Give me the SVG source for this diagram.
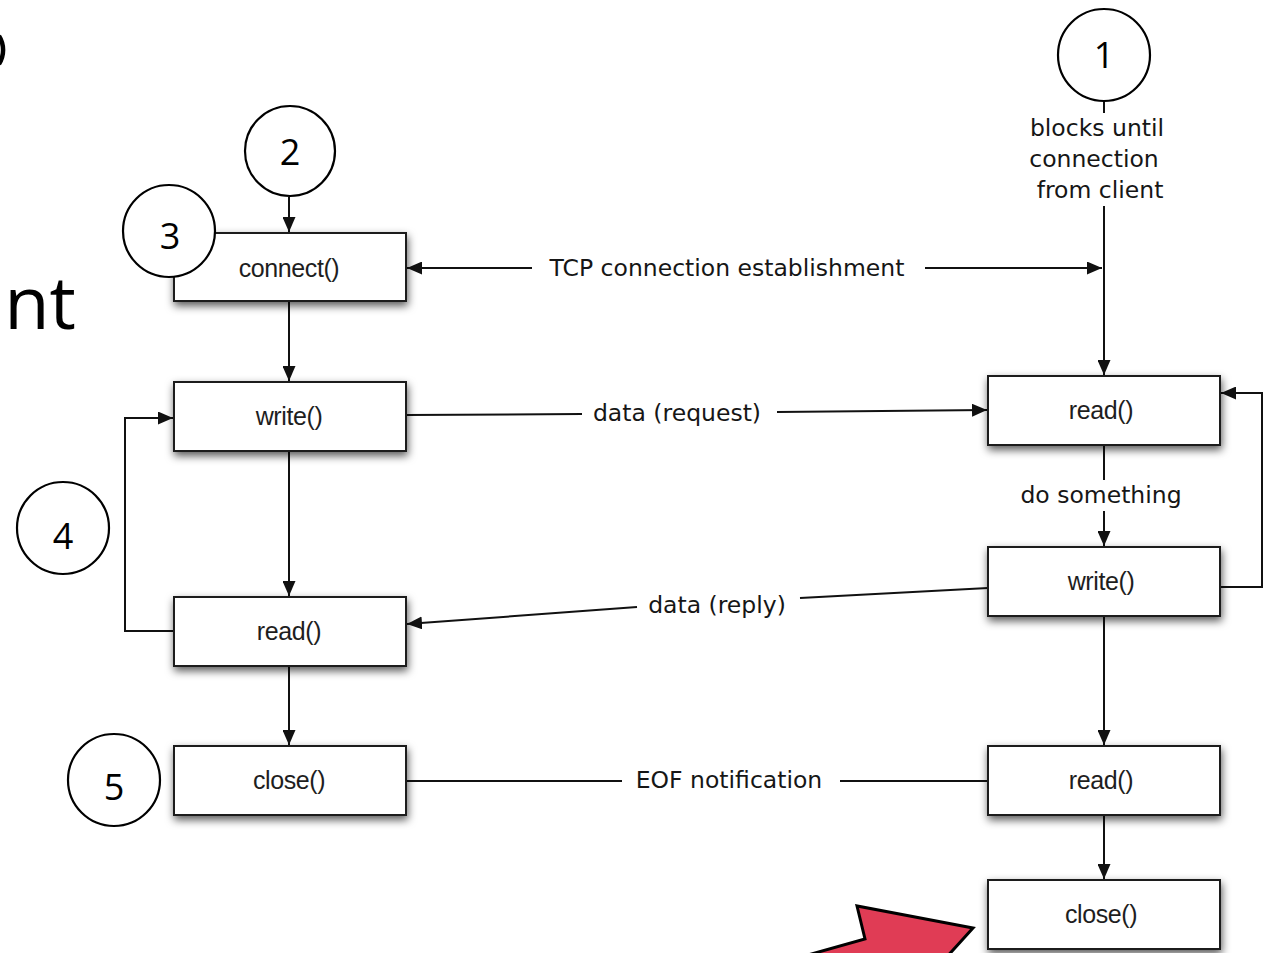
<svg xmlns="http://www.w3.org/2000/svg" width="1264" height="953" viewBox="0 0 1264 953">
  <defs>
    <filter id="shadow" x="-10%" y="-30%" width="120%" height="170%">
      <feDropShadow dx="1" dy="4" stdDeviation="4" flood-color="#000" flood-opacity="0.65"/>
    </filter>
    <marker id="arrow" markerUnits="userSpaceOnUse" markerWidth="16" markerHeight="13" refX="15" refY="6.5" orient="auto">
      <path d="M0,0 L15,6.5 L0,13 z" fill="#111"/>
    </marker>
    <style>
      .box rect { fill: #fff; stroke: #1a1a1a; stroke-width: 2; filter: url(#shadow); }
      .box text { font-family: "Liberation Sans", Arial, sans-serif; font-size: 25px; fill: #1e1e1e; text-anchor: middle; dominant-baseline: central; letter-spacing: -0.4px; }
      .step circle { fill: #fff; stroke: #000; stroke-width: 2.2; }
      .step text { font-family: "Open Sans", "Noto Sans", sans-serif; font-size: 36px; fill: #000; text-anchor: middle; dominant-baseline: central; }
      .edge { fill: none; stroke: #111; stroke-width: 2; }
      .arr { marker-end: url(#arrow); }
      .lbl { font-family: "DejaVu Sans", Verdana, sans-serif; font-size: 23.5px; fill: #161616; text-anchor: middle; dominant-baseline: central; }
    </style>
  </defs>

  <rect width="1264" height="953" fill="#fff"/>

  <!-- slide fragments at the left edge -->
  <path d="M -1 36 A 26 26 0 0 1 -1 64" fill="none" stroke="#000" stroke-width="4.5"/>
  <text x="76" y="329" font-family="Open Sans, Noto Sans, sans-serif" font-size="74" fill="#000" text-anchor="end">nt</text>

  <!-- connectors -->
  <g id="connectors">
    <!-- client column -->
    <line class="edge arr" x1="289" y1="197" x2="289" y2="232"/>
    <line class="edge arr" x1="289" y1="302" x2="289" y2="381"/>
    <line class="edge arr" x1="289" y1="451" x2="289" y2="596" stroke="#444"/>
    <line class="edge arr" x1="289" y1="666" x2="289" y2="745"/>
    <polyline class="edge arr" points="174,631 125,631 125,418 173,418"/>

    <!-- server column -->
    <line class="edge" x1="1104" y1="101" x2="1104" y2="113"/>
    <line class="edge arr" x1="1104" y1="206" x2="1104" y2="375"/>
    <line class="edge" x1="1104" y1="445" x2="1104" y2="480"/>
    <line class="edge arr" x1="1104" y1="511" x2="1104" y2="546"/>
    <polyline class="edge arr" points="1220,587 1262,587 1262,393 1221,393"/>
    <line class="edge arr" x1="1104" y1="616" x2="1104" y2="745"/>
    <line class="edge arr" x1="1104" y1="815" x2="1104" y2="879"/>

    <!-- TCP connection establishment -->
    <line class="edge arr" x1="532" y1="268" x2="407" y2="268"/>
    <line class="edge arr" x1="925" y1="268" x2="1102" y2="268"/>
    <text class="lbl" x="727" y="268">TCP connection establishment</text>

    <!-- data (request) -->
    <line class="edge" x1="406" y1="415" x2="582" y2="414"/>
    <line class="edge arr" x1="777" y1="412" x2="987" y2="410"/>
    <text class="lbl" x="677" y="413">data (request)</text>

    <!-- data (reply) -->
    <line class="edge" x1="988" y1="588" x2="800" y2="598"/>
    <line class="edge arr" x1="637" y1="607" x2="407" y2="624"/>
    <text class="lbl" x="717" y="605">data (reply)</text>

    <!-- EOF notification -->
    <line class="edge" x1="406" y1="781" x2="622" y2="781"/>
    <line class="edge" x1="840" y1="781" x2="988" y2="781"/>
    <text class="lbl" x="729" y="780">EOF notification</text>

    <!-- server annotations -->
    <text class="lbl" x="1097" y="128">blocks until</text>
    <text class="lbl" x="1094" y="159">connection</text>
    <text class="lbl" x="1100" y="190">from client</text>
    <text class="lbl" x="1101" y="495">do something</text>
  </g>

  <!-- client nodes -->
  <g id="c-connect" class="box"><rect x="174" y="233" width="232" height="68"/><text x="289" y="268">connect()</text></g>
  <g id="c-write" class="box"><rect x="174" y="382" width="232" height="69"/><text x="289" y="416">write()</text></g>
  <g id="c-read" class="box"><rect x="174" y="597" width="232" height="69"/><text x="289" y="631">read()</text></g>
  <g id="c-close" class="box"><rect x="174" y="746" width="232" height="69"/><text x="289" y="780">close()</text></g>

  <!-- server nodes -->
  <g id="s-read1" class="box"><rect x="988" y="376" width="232" height="69"/><text x="1101" y="410">read()</text></g>
  <g id="s-write" class="box"><rect x="988" y="547" width="232" height="69"/><text x="1101" y="581">write()</text></g>
  <g id="s-read2" class="box"><rect x="988" y="746" width="232" height="69"/><text x="1101" y="780">read()</text></g>
  <g id="s-close" class="box"><rect x="988" y="880" width="232" height="69"/><text x="1101" y="914">close()</text></g>

  <!-- numbered steps -->
  <g id="step1" class="step"><circle cx="1104" cy="55" r="46"/><text x="1104" y="54">1</text></g>
  <g id="step2" class="step"><circle cx="290" cy="151" r="45"/><text x="290" y="151">2</text></g>
  <g id="step3" class="step"><circle cx="169" cy="231" r="46"/><text x="170" y="235">3</text></g>
  <g id="step4" class="step"><circle cx="63" cy="528" r="46"/><text x="63" y="535">4</text></g>
  <g id="step5" class="step"><circle cx="114" cy="780" r="46"/><text x="114" y="786">5</text></g>

  <!-- pointer arrow -->
  <polygon id="pointer" points="790,960 865,939 857,906 973,928 944,960" fill="#E03C55" stroke="#000" stroke-width="3" stroke-linejoin="miter"/>
</svg>
